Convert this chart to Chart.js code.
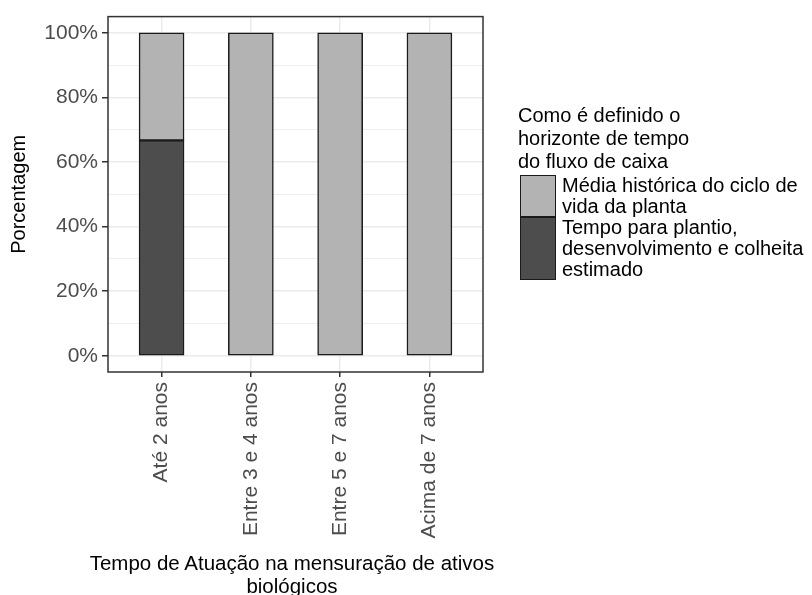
<!DOCTYPE html>
<html>
<head>
<meta charset="utf-8">
<script src="https://cdn.jsdelivr.net/npm/chart.js@4"></script>
<style>
  html, body { margin: 0; padding: 0; background: #fff; }
  #wrap { position: relative; width: 812px; height: 595px; overflow: hidden; }
  #c { position: absolute; left: 0; top: 0; }
  #legend { position: absolute; left: 518px; top: 104px; font-family: "Liberation Sans", Arial, sans-serif; color: #000; }
  #legend .ttl { font-size: 20px; line-height: 23px; white-space: pre-line; margin-bottom: 2px; }
  #legend .row { display: flex; align-items: stretch; margin-left: 2px; }
  #legend .key { width: 36px; box-sizing: border-box; border: 1.5px solid #1a1a1a; margin-right: 6px; }
  #legend .lab { font-size: 20px; line-height: 21px; white-space: pre-line; }
  #xtitle { position: absolute; left: 42px; width: 500px; top: 551px; text-align: center;
            font-family: "Liberation Sans", Arial, sans-serif; font-size: 20.5px; line-height: 23px; color: #000; white-space: pre-line; }
</style>
</head>
<body>
<div id="wrap">
  <canvas id="c" width="812" height="595"></canvas>
  <div id="legend"></div>
  <div id="xtitle"></div>
</div>
<script>
// ---- data ----
const categories = ["Até 2 anos", "Entre 3 e 4 anos", "Entre 5 e 7 anos", "Acima de 7 anos"];
const seriesNames = ["Média histórica do ciclo de\nvida da planta", "Tempo para plantio,\ndesenvolvimento e colheita\nestimado"];
const mediaHistorica = [0.333, 1, 1, 1];
const tempoPlantio = [0.667, 0, 0, 0];
const seriesColors = ["#B3B3B3", "#4D4D4D"];
const yTickValues = [0, 0.2, 0.4, 0.6, 0.8, 1.0];
const yMinorValues = [0.1, 0.3, 0.5, 0.7, 0.9];
const legendTitle = "Como é definido o\nhorizonte de tempo\ndo fluxo de caixa";
const xTitle = ["Tempo de Atuação na mensuração de ativos", "biológicos"];
const yTitle = "Porcentagem";

const FONT = "'Liberation Sans', Arial, sans-serif";

function pts(vals) { return vals.map((v, i) => ({ x: i + 1, y: v })); }

const panelBorder = {
  id: 'panelBorder',
  afterDraw(chart) {
    const a = chart.chartArea, ctx = chart.ctx;
    ctx.save();
    ctx.strokeStyle = '#333333';
    ctx.lineWidth = 1.5;
    ctx.strokeRect(a.left, a.top, a.right - a.left, a.bottom - a.top);
    ctx.restore();
  }
};

const allY = yTickValues.concat(yMinorValues).sort((a, b) => a - b);
const isMajor = v => yTickValues.some(t => Math.abs(t - v) < 1e-9);

new Chart(document.getElementById('c'), {
  type: 'bar',
  data: {
    datasets: [
      { label: seriesNames[1], data: pts(tempoPlantio), backgroundColor: seriesColors[1], borderColor: '#1a1a1a', borderWidth: 1.5, borderSkipped: false, barThickness: 45 },
      { label: seriesNames[0], data: pts(mediaHistorica), backgroundColor: seriesColors[0], borderColor: '#1a1a1a', borderWidth: 1.5, borderSkipped: false, barThickness: 45 }
    ]
  },
  options: {
    responsive: false,
    animation: false,
    devicePixelRatio: 1,
    layout: { padding: { left: 0, top: 12, right: 329, bottom: 0 } },
    plugins: { legend: { display: false }, tooltip: { enabled: false } },
    scales: {
      x: {
        type: 'linear', stacked: true, min: 0.4, max: 4.6, offset: false,
        afterBuildTicks: s => { s.ticks = categories.map((c, i) => ({ value: i + 1 })); },
        afterFit: s => { s.height = 223; },
        ticks: {
          autoSkip: false, minRotation: 90, maxRotation: 90, padding: 5,
          color: '#4D4D4D', font: { family: FONT, size: 21 },
          callback: v => categories[Math.round(v) - 1]
        },
        grid: { offset: false, color: '#EBEBEB', lineWidth: 1.5, drawTicks: true, tickLength: 5, tickColor: '#333333', tickWidth: 1.5 },
        border: { display: false },
        title: { display: false }
      },
      y: {
        stacked: true, min: -0.05, max: 1.05,
        afterBuildTicks: s => { s.ticks = allY.map(v => ({ value: v })); },
        afterFit: s => { s.width = 108; },
        ticks: {
          autoSkip: false, padding: 4, color: '#4D4D4D', font: { family: FONT, size: 21 },
          callback: v => isMajor(v) ? Math.round(v * 100) + '%' : ''
        },
        grid: {
          color: '#EBEBEB',
          lineWidth: c => (c.tick && isMajor(c.tick.value)) ? 1.5 : 0.8,
          tickLength: 6,
          tickColor: c => (c.tick && isMajor(c.tick.value)) ? '#333333' : 'rgba(0,0,0,0)',
          tickWidth: 1.5
        },
        border: { display: false },
        title: { display: true, text: yTitle, color: '#000', font: { family: FONT, size: 20, lineHeight: 1.15 }, padding: { top: 8, bottom: 0 } }
      }
    }
  },
  plugins: [panelBorder]
});

// ---- HTML x title & legend ----
document.getElementById('xtitle').textContent = xTitle.join('\n');
const lg = document.getElementById('legend');
const t = document.createElement('div'); t.className = 'ttl'; t.textContent = legendTitle; lg.appendChild(t);
seriesNames.forEach((n, i) => {
  const r = document.createElement('div'); r.className = 'row';
  const k = document.createElement('div'); k.className = 'key'; k.style.background = seriesColors[i];
  const l = document.createElement('div'); l.className = 'lab'; l.textContent = n;
  r.appendChild(k); r.appendChild(l); lg.appendChild(r);
});
</script>
</body>
</html>
